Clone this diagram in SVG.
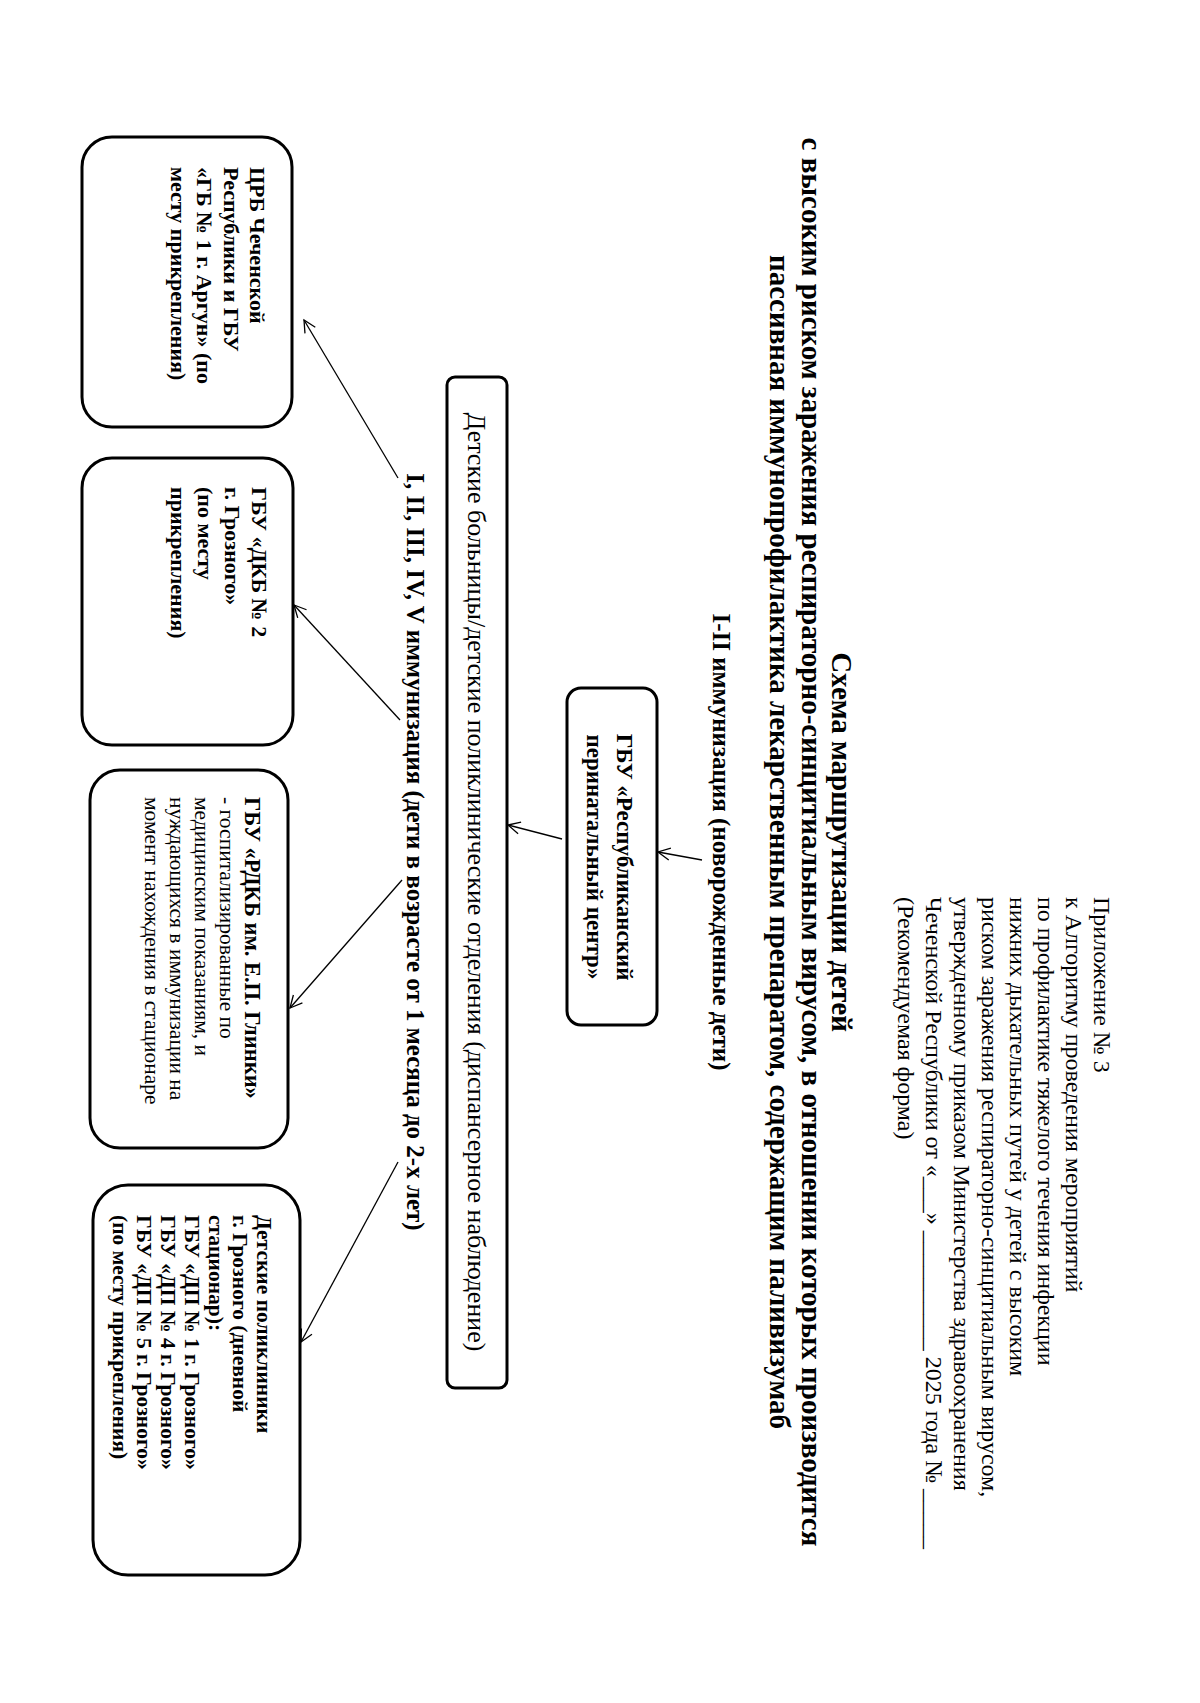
<svg xmlns="http://www.w3.org/2000/svg" width="1200" height="1703" viewBox="0 0 1200 1703">
<defs>
<style>
text{font-family:"Liberation Serif","Times New Roman",serif;fill:#000}
.hd{font-size:24px}
.tt{font-size:29px;font-weight:bold;text-anchor:middle}
.lb{font-size:25px;font-weight:bold;text-anchor:middle}
.nb{font-size:22px;font-weight:bold}
.nr{font-size:21.5px}
.box{fill:#fff;stroke:#000;stroke-width:3}
.con{stroke:#000;stroke-width:1.3;fill:none}
</style>
<marker id="ah" markerWidth="16" markerHeight="16" refX="14" refY="8" orient="auto" markerUnits="userSpaceOnUse">
<path d="M2,2 L14,8 L2,14" fill="none" stroke="#000" stroke-width="1.3"/>
</marker>
</defs>
<rect width="1200" height="1703" fill="#fff"/>
<g id="header">
<text class="hd" transform="translate(1094,897) rotate(90)"><tspan x="0" y="0">Приложение № 3</tspan><tspan x="0" dy="28">к Алгоритму проведения мероприятий</tspan><tspan x="0" dy="28">по профилактике тяжелого течения инфекции</tspan><tspan x="0" dy="28">нижних дыхательных путей у детей с высоким</tspan><tspan x="0" dy="28">риском заражения респираторно-синцитиальным вирусом,</tspan><tspan x="0" dy="28">утвержденному приказом Министерства здравоохранения</tspan><tspan x="0" dy="28">Чеченской Республики от «___» __________ 2025 года № _____</tspan><tspan x="0" dy="28">(Рекомендуемая форма)</tspan></text>
</g>
<g id="title">
<text class="tt" transform="translate(832,842) rotate(90)"><tspan x="0" y="0">Схема маршрутизации детей</tspan><tspan x="0" dy="30">с высоким риском заражения респираторно-синцитиальным вирусом, в отношении которых производится</tspan><tspan x="0" dy="32">пассивная иммунопрофилактика лекарственным препаратом, содержащим паливизумаб</tspan></text>
</g>
<g id="label-newborn">
<text class="lb" transform="translate(713,842) rotate(90)">I-II иммунизация (новорожденные дети)</text>
</g>
<g id="node-perinatal">
<rect class="box" x="567" y="688" width="90" height="337" rx="14"/>
<text class="nb" style="font-size:23px;text-anchor:middle" transform="translate(617,857) rotate(90)"><tspan x="0" y="0">ГБУ «Республиканский</tspan><tspan x="0" dy="30">перинатальный центр»</tspan></text>
</g>
<g id="node-hospitals">
<rect class="box" x="447" y="377" width="60" height="1011" rx="8"/>
<text style="font-size:26px;text-anchor:middle" transform="translate(468,882) rotate(90)">Детские больницы/детские поликлинические отделения (диспансерное наблюдение)</text>
</g>
<g id="label-older">
<text class="lb" transform="translate(407,852) rotate(90)">I, II, III, IV, V иммунизация (дети в возрасте от 1 месяца до 2-х лет)</text>
</g>
<g id="node-crb">
<rect class="box" x="82" y="137" width="210" height="290" rx="30"/>
<text class="nb" transform="translate(250,167) rotate(90)"><tspan x="0" y="0">ЦРБ Чеченской</tspan><tspan x="0" dy="26.5">Республики и ГБУ</tspan><tspan x="0" dy="26.5">«ГБ № 1 г. Аргун» (по</tspan><tspan x="0" dy="26.5">месту прикрепления)</tspan></text>
</g>
<g id="node-dkb2">
<rect class="box" x="82" y="458" width="211" height="287" rx="30"/>
<text class="nb" transform="translate(252,487) rotate(90)"><tspan x="0" y="0">ГБУ «ДКБ № 2</tspan><tspan x="0" dy="27">г. Грозного»</tspan><tspan x="0" dy="27">(по месту</tspan><tspan x="0" dy="27">прикрепления)</tspan></text>
</g>
<g id="node-rdkb">
<rect class="box" x="90" y="770" width="198" height="378" rx="30"/>
<text class="nr" transform="translate(245,797) rotate(90)"><tspan x="0" y="0" class="nb" style="font-size:22.5px">ГБУ «РДКБ им. Е.П. Глинки»</tspan><tspan x="0" dy="25">- госпитализированные по</tspan><tspan x="0" dy="25">медицинским показаниям, и</tspan><tspan x="0" dy="25">нуждающихся в иммунизации на</tspan><tspan x="0" dy="25">момент нахождения в стационаре</tspan></text>
</g>
<g id="node-polyclinics">
<rect class="box" x="93" y="1185" width="207" height="390" rx="35"/>
<text class="nb" style="font-size:21.5px" transform="translate(257,1215) rotate(90)"><tspan x="0" y="0">Детские поликлиники</tspan><tspan x="0" dy="24">г. Грозного (дневной</tspan><tspan x="0" dy="24">стационар):</tspan><tspan x="0" dy="24">ГБУ «ДП № 1 г. Грозного»</tspan><tspan x="0" dy="24">ГБУ «ДП № 4 г. Грозного»</tspan><tspan x="0" dy="24">ГБУ «ДП № 5 г. Грозного»</tspan><tspan x="0" dy="24">(по месту прикрепления)</tspan></text>
</g>
<g id="connectors">
<line class="con" x1="702" y1="860" x2="658" y2="852" marker-end="url(#ah)"/>
<line class="con" x1="562" y1="839" x2="508" y2="825" marker-end="url(#ah)"/>
<line class="con" x1="398" y1="478" x2="304" y2="320" marker-end="url(#ah)"/>
<line class="con" x1="400" y1="720" x2="294" y2="605" marker-end="url(#ah)"/>
<line class="con" x1="402" y1="880" x2="290" y2="1008" marker-end="url(#ah)"/>
<line class="con" x1="398" y1="1162" x2="301" y2="1342" marker-end="url(#ah)"/>
</g>
</svg>
